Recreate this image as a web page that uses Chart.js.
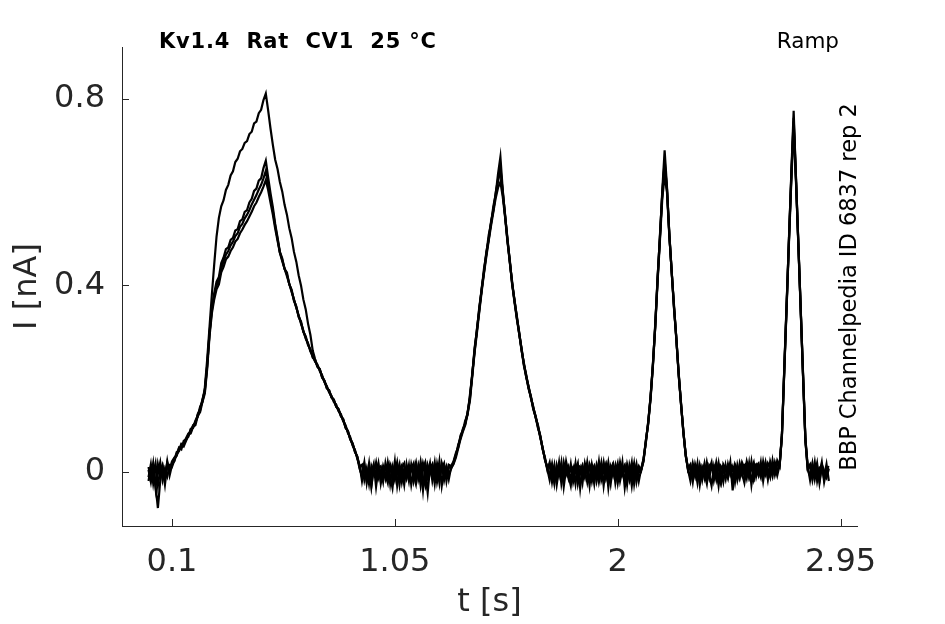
<!DOCTYPE html>
<html>
<head>
<meta charset="utf-8">
<title>Kv1.4 Rat CV1 25 °C - Ramp</title>
<script src="https://cdn.jsdelivr.net/npm/chart.js@4.4.1/dist/chart.umd.min.js"></script>
<style>
	html, body { margin: 0; padding: 0; background: #fff; }
	#wrap { width: 945px; height: 624px; }
</style>
</head>
<body>
<div id="wrap"><canvas id="rampChart" width="945" height="624"></canvas></div>
<script>
// recording clock: one sample every 10 ms starting at 0 s
var sampleStart = 0;
var sampleStep = 0.01;

var xTicks = [0.1, 1.05, 2, 2.95];
var yTicks = [0, 0.4, 0.8];

var headline = 'Kv1.4  Rat  CV1  25 \u00B0C';
var protocolName = 'Ramp';
var sourceNote = 'BBP Channelpedia ID 6837 rep 2';

// current traces [nA]
var traceA = [
	0.010, -0.015, 0.018, -0.030, -0.078, -0.020, 0.012, -0.008, 0.020, 0.004,
	0.022, 0.030, 0.036, 0.052, 0.048, 0.066, 0.070, 0.075, 0.092, 0.094,
	0.110, 0.118, 0.140, 0.150, 0.180, 0.240, 0.310, 0.380, 0.445, 0.505,
	0.545, 0.570, 0.583, 0.605, 0.616, 0.636, 0.645, 0.665, 0.672, 0.688,
	0.693, 0.706, 0.710, 0.725, 0.730, 0.748, 0.752, 0.770, 0.777, 0.798,
	0.812, 0.776, 0.737, 0.702, 0.670, 0.650, 0.622, 0.602, 0.573, 0.552,
	0.523, 0.502, 0.472, 0.451, 0.422, 0.400, 0.370, 0.349, 0.318, 0.294,
	0.260, 0.242, 0.226, 0.220, 0.203, 0.195, 0.180, 0.174, 0.160, 0.154,
	0.140, 0.134, 0.120, 0.112, 0.095, 0.087, 0.070, 0.060, 0.043, 0.032,
	0.010, -0.012, 0.015, -0.020, 0.008, -0.030, 0.012, -0.006, 0.018, -0.025,
	0.004, -0.015, 0.020, -0.010, -0.035, 0.010, -0.004, 0.016, -0.022, 0.006,
	-0.012, 0.014, -0.028, 0.002, 0.020, -0.016, 0.008, -0.040, 0.012, -0.006,
	0.018, -0.020, 0.006, -0.014, 0.022, -0.030, 0.004, -0.010, 0.015, 0.012,
	0.022, 0.040, 0.052, 0.078, 0.088, 0.110, 0.122, 0.165, 0.208, 0.266,
	0.303, 0.354, 0.390, 0.436, 0.468, 0.508, 0.533, 0.570, 0.596, 0.640,
	0.676, 0.605, 0.548, 0.502, 0.450, 0.408, 0.366, 0.335, 0.296, 0.266,
	0.230, 0.208, 0.180, 0.162, 0.136, 0.120, 0.096, 0.078, 0.048, 0.030,
	0.006, -0.018, 0.010, -0.025, 0.014, -0.008, 0.020, -0.032, 0.006, -0.014,
	0.016, -0.022, 0.002, 0.018, -0.036, 0.008, -0.012, 0.020, -0.018, 0.004,
	-0.026, 0.014, -0.006, 0.019, -0.030, 0.010, -0.016, 0.006, 0.017, -0.024,
	0.008, -0.012, 0.020, -0.034, 0.004, -0.018, 0.012, -0.008, 0.016, -0.020,
	0.006, 0.028, 0.062, 0.108, 0.158, 0.232, 0.312, 0.418, 0.502, 0.604,
	0.690, 0.612, 0.508, 0.432, 0.352, 0.287, 0.208, 0.147, 0.083, 0.037,
	0.004, -0.020, 0.012, -0.010, 0.018, -0.028, 0.006, -0.014, 0.020, -0.006,
	-0.030, 0.010, -0.016, 0.016, 0.002, -0.022, 0.014, -0.008, 0.020, -0.040,
	0.008, -0.012, 0.018, -0.004, -0.024, 0.012, -0.010, 0.022, -0.016, 0.006,
	-0.008, 0.020, -0.020, 0.014, 0.004, -0.012, 0.024, -0.006, 0.016, 0.010,
	0.080, 0.222, 0.362, 0.498, 0.642, 0.775, 0.628, 0.492, 0.348, 0.212,
	0.072, 0.012, -0.018, 0.014, -0.006, 0.018, -0.024, 0.010, -0.010, 0.016,
	-0.020
];

var traceB = [
	-0.012, 0.016, -0.025, 0.008, -0.004, 0.020, -0.018, 0.006, -0.010, 0.014,
	0.010, 0.024, 0.042, 0.046, 0.060, 0.058, 0.072, 0.082, 0.085, 0.100,
	0.104, 0.124, 0.132, 0.156, 0.172, 0.226, 0.298, 0.352, 0.383, 0.408,
	0.418, 0.448, 0.460, 0.478, 0.482, 0.498, 0.502, 0.518, 0.521, 0.538,
	0.542, 0.558, 0.562, 0.578, 0.586, 0.603, 0.608, 0.625, 0.630, 0.652,
	0.668, 0.632, 0.598, 0.568, 0.532, 0.503, 0.472, 0.458, 0.435, 0.428,
	0.402, 0.391, 0.367, 0.355, 0.332, 0.323, 0.300, 0.291, 0.272, 0.263,
	0.245, 0.240, 0.225, 0.221, 0.202, 0.196, 0.179, 0.175, 0.159, 0.155,
	0.139, 0.135, 0.119, 0.113, 0.094, 0.088, 0.069, 0.061, 0.042, 0.033,
	0.010, 0.015, -0.018, 0.006, -0.026, 0.012, -0.004, 0.020, -0.014, 0.002,
	-0.022, 0.018, -0.008, 0.010, -0.016, 0.022, -0.030, 0.004, 0.014, -0.012,
	0.008, -0.020, 0.016, -0.006, -0.026, 0.012, -0.014, 0.018, -0.002, -0.045,
	0.010, -0.010, 0.020, -0.022, 0.004, 0.014, -0.018, 0.008, -0.006, 0.006,
	0.018, 0.034, 0.058, 0.072, 0.092, 0.102, 0.128, 0.156, 0.212, 0.258,
	0.307, 0.346, 0.394, 0.428, 0.472, 0.498, 0.537, 0.560, 0.600, 0.628,
	0.655, 0.598, 0.552, 0.496, 0.455, 0.402, 0.370, 0.330, 0.300, 0.260,
	0.234, 0.203, 0.184, 0.158, 0.140, 0.116, 0.100, 0.073, 0.052, 0.025,
	0.010, 0.014, -0.022, 0.008, -0.012, 0.020, -0.026, 0.004, 0.016, -0.008,
	-0.030, 0.010, 0.014, -0.016, 0.006, -0.024, 0.018, -0.004, 0.012, -0.020,
	0.008, -0.012, 0.022, -0.018, 0.002, 0.016, -0.034, 0.010, -0.008, 0.014,
	-0.016, 0.020, -0.006, 0.010, -0.028, 0.014, -0.010, 0.018, -0.022, 0.004,
	0.004, 0.022, 0.068, 0.102, 0.162, 0.228, 0.318, 0.412, 0.508, 0.596,
	0.670, 0.606, 0.512, 0.428, 0.358, 0.283, 0.212, 0.143, 0.087, 0.033,
	0.008, 0.016, -0.014, 0.006, -0.024, 0.014, -0.008, 0.018, -0.012, 0.004,
	0.020, -0.018, 0.008, -0.030, 0.012, 0.004, -0.016, 0.016, -0.006, 0.010,
	-0.022, 0.014, -0.010, 0.020, 0.008, -0.014, 0.018, -0.028, 0.010, 0.016,
	0.004, -0.012, 0.022, -0.004, 0.018, 0.008, -0.010, 0.020, 0.002, 0.014,
	0.078, 0.218, 0.358, 0.502, 0.636, 0.760, 0.632, 0.488, 0.352, 0.208,
	0.068, 0.008, 0.016, -0.012, 0.020, -0.020, 0.008, 0.014, -0.016, 0.006,
	0.012
];

var traceC = [
	0.004, -0.022, 0.012, -0.035, 0.016, -0.010, 0.006, -0.028, 0.014, 0.002,
	0.018, 0.022, 0.038, 0.044, 0.058, 0.054, 0.066, 0.080, 0.082, 0.096,
	0.100, 0.120, 0.128, 0.150, 0.168, 0.220, 0.290, 0.340, 0.370, 0.392,
	0.402, 0.428, 0.440, 0.456, 0.462, 0.474, 0.482, 0.494, 0.500, 0.512,
	0.520, 0.530, 0.538, 0.548, 0.558, 0.570, 0.578, 0.590, 0.600, 0.612,
	0.626, 0.605, 0.578, 0.552, 0.522, 0.496, 0.470, 0.452, 0.436, 0.420,
	0.404, 0.386, 0.370, 0.352, 0.336, 0.318, 0.303, 0.286, 0.276, 0.258,
	0.250, 0.236, 0.230, 0.216, 0.207, 0.192, 0.184, 0.170, 0.163, 0.150,
	0.144, 0.130, 0.124, 0.108, 0.100, 0.083, 0.074, 0.056, 0.047, 0.028,
	0.014, -0.020, 0.010, -0.014, 0.018, -0.032, 0.006, -0.010, 0.014, -0.018,
	0.012, -0.006, -0.024, 0.016, 0.002, -0.018, 0.012, -0.028, 0.008, 0.018,
	-0.014, 0.004, 0.012, -0.020, 0.010, -0.008, 0.022, -0.012, -0.030, 0.014,
	-0.004, 0.012, -0.026, 0.016, -0.012, 0.006, 0.018, -0.020, 0.010, 0.008,
	0.016, 0.030, 0.050, 0.070, 0.086, 0.100, 0.124, 0.152, 0.204, 0.256,
	0.298, 0.344, 0.386, 0.426, 0.462, 0.496, 0.528, 0.558, 0.588, 0.610,
	0.622, 0.590, 0.546, 0.494, 0.450, 0.404, 0.364, 0.328, 0.296, 0.262,
	0.228, 0.204, 0.178, 0.160, 0.134, 0.118, 0.094, 0.076, 0.050, 0.026,
	0.008, -0.010, 0.016, -0.020, 0.004, 0.012, -0.016, 0.020, -0.006, 0.010,
	-0.018, 0.006, -0.026, 0.014, 0.010, -0.012, 0.004, -0.022, 0.016, 0.002,
	0.012, -0.020, 0.008, -0.008, 0.020, -0.014, 0.006, -0.026, 0.012, -0.002,
	0.018, -0.020, 0.004, 0.014, -0.012, 0.008, -0.030, 0.010, -0.004, 0.012,
	0.002, 0.024, 0.064, 0.104, 0.156, 0.226, 0.310, 0.408, 0.496, 0.586,
	0.636, 0.600, 0.506, 0.430, 0.350, 0.284, 0.206, 0.144, 0.084, 0.034,
	0.004, -0.012, 0.018, -0.006, 0.012, -0.020, 0.010, -0.004, -0.026, 0.014,
	0.006, 0.012, -0.012, 0.018, -0.020, 0.008, 0.004, -0.014, 0.016, 0.008,
	0.012, -0.018, 0.006, -0.008, 0.014, 0.018, -0.012, 0.006, 0.020, -0.010,
	0.014, 0.006, -0.004, 0.020, -0.012, 0.016, 0.010, -0.002, 0.024, 0.012,
	0.076, 0.214, 0.352, 0.492, 0.624, 0.742, 0.620, 0.486, 0.346, 0.204,
	0.066, 0.004, -0.010, 0.018, -0.016, 0.012, -0.006, 0.020, -0.022, 0.004,
	0.008
];

var traceD = [
	-0.020, 0.008, -0.006, 0.018, -0.030, 0.004, 0.014, -0.016, 0.022, -0.008,
	0.014, 0.028, 0.034, 0.050, 0.052, 0.062, 0.068, 0.078, 0.090, 0.098,
	0.106, 0.122, 0.136, 0.152, 0.176, 0.228, 0.296, 0.346, 0.378, 0.400,
	0.412, 0.436, 0.452, 0.466, 0.474, 0.486, 0.494, 0.506, 0.512, 0.526,
	0.532, 0.544, 0.552, 0.562, 0.574, 0.584, 0.594, 0.606, 0.616, 0.630,
	0.646, 0.618, 0.588, 0.560, 0.528, 0.500, 0.471, 0.455, 0.436, 0.424,
	0.403, 0.388, 0.369, 0.353, 0.334, 0.320, 0.302, 0.288, 0.274, 0.261,
	0.247, 0.238, 0.228, 0.218, 0.205, 0.194, 0.182, 0.172, 0.161, 0.152,
	0.141, 0.132, 0.121, 0.110, 0.097, 0.085, 0.071, 0.058, 0.045, 0.030,
	0.006, -0.008, 0.020, -0.024, 0.010, -0.004, 0.016, -0.032, 0.008, 0.012,
	-0.010, 0.008, 0.016, -0.026, 0.012, -0.006, 0.020, -0.014, 0.002, -0.028,
	0.016, -0.010, 0.006, 0.018, -0.018, 0.010, -0.030, 0.004, 0.020, -0.012,
	0.006, 0.016, -0.012, 0.010, -0.024, 0.018, -0.002, 0.012, -0.016, 0.010,
	0.020, 0.036, 0.054, 0.074, 0.090, 0.104, 0.126, 0.160, 0.208, 0.262,
	0.304, 0.350, 0.390, 0.430, 0.466, 0.500, 0.534, 0.564, 0.594, 0.624,
	0.648, 0.602, 0.550, 0.498, 0.452, 0.405, 0.368, 0.332, 0.298, 0.264,
	0.232, 0.206, 0.182, 0.160, 0.138, 0.118, 0.098, 0.075, 0.050, 0.028,
	0.004, 0.020, -0.012, 0.014, -0.028, 0.006, 0.010, -0.018, 0.022, -0.004,
	0.010, -0.014, 0.018, -0.026, 0.002, 0.014, -0.008, 0.010, -0.030, 0.016,
	-0.006, 0.012, -0.022, 0.004, 0.016, -0.010, 0.020, -0.016, 0.006, 0.010,
	-0.024, 0.012, 0.002, -0.018, 0.016, -0.006, 0.020, -0.026, 0.010, -0.002,
	0.004, 0.026, 0.066, 0.106, 0.160, 0.230, 0.314, 0.414, 0.504, 0.598,
	0.662, 0.608, 0.510, 0.430, 0.354, 0.286, 0.210, 0.146, 0.086, 0.036,
	0.002, 0.010, -0.022, 0.016, -0.004, 0.008, -0.018, 0.012, 0.004, -0.014,
	0.014, -0.006, 0.020, -0.012, -0.026, 0.016, 0.006, -0.010, 0.012, -0.020,
	0.016, 0.004, -0.014, 0.012, -0.008, 0.022, 0.002, -0.012, -0.018, 0.012,
	0.018, -0.006, 0.010, 0.016, -0.016, 0.022, 0.004, 0.012, -0.008, 0.014,
	0.080, 0.220, 0.356, 0.498, 0.632, 0.752, 0.626, 0.490, 0.350, 0.206,
	0.070, 0.006, 0.012, -0.018, 0.010, 0.004, -0.020, 0.016, 0.002, -0.012,
	0.006
];

var axisColor = '#262626';
var fontFamily = '"DejaVu Sans", "Liberation Sans", sans-serif';

function toPoints(values) {
	return values.map(function(v, i) {
		return { x: +(sampleStart + i * sampleStep).toFixed(2), y: v };
	});
}

function traceSet(values) {
	return {
		data : toPoints(values),
		borderColor : '#000',
		borderWidth : 2.2,
		pointRadius : 0,
		tension : 0,
		fill : false
	};
}

// inward tick marks + the free text around the axes
var frameDecor = {
	id : 'frameDecor',
	afterDraw : function(chart) {
		var ctx = chart.ctx;
		var area = chart.chartArea;
		var xs = chart.scales.x;
		var ys = chart.scales.y;
		ctx.save();
		ctx.strokeStyle = axisColor;
		ctx.lineWidth = 1;
		ctx.beginPath();
		xTicks.forEach(function(v) {
			var px = Math.round(xs.getPixelForValue(v)) + 0.5;
			ctx.moveTo(px, area.bottom);
			ctx.lineTo(px, area.bottom - 7);
		});
		yTicks.forEach(function(v) {
			var py = Math.round(ys.getPixelForValue(v)) + 0.5;
			ctx.moveTo(area.left, py);
			ctx.lineTo(area.left + 7, py);
		});
		ctx.stroke();

		ctx.fillStyle = '#000';
		ctx.textBaseline = 'alphabetic';
		ctx.font = 'bold 21px ' + fontFamily;
		ctx.textAlign = 'left';
		ctx.letterSpacing = '0.8px';
		ctx.fillText(headline, 159, 48);
		ctx.letterSpacing = '0px';
		ctx.font = '21.5px ' + fontFamily;
		ctx.textAlign = 'right';
		ctx.fillText(protocolName, 839, 48);

		ctx.font = '22.5px ' + fontFamily;
		ctx.translate(856, 287);
		ctx.rotate(-Math.PI / 2);
		ctx.textAlign = 'center';
		ctx.fillText(sourceNote, 0, 0);
		ctx.restore();
	}
};

var rampChart = new Chart(document.getElementById('rampChart').getContext('2d'), {
	type : 'line',
	data : {
		datasets : [ traceSet(traceA), traceSet(traceB), traceSet(traceC), traceSet(traceD) ]
	},
	options : {
		responsive : false,
		animation : false,
		layout : { padding : { left : 0, right : 88, top : 47, bottom : 0 } },
		plugins : {
			legend : { display : false },
			tooltip : { enabled : false }
		},
		scales : {
			x : {
				type : 'linear',
				min : -0.113,
				max : 3.02,
				afterBuildTicks : function(scale) {
					scale.ticks = xTicks.map(function(v) { return { value : v }; });
				},
				afterFit : function(scale) { scale.height = 98; },
				grid : { display : false, drawTicks : false },
				border : { display : true, color : axisColor, width : 1 },
				ticks : {
					color : axisColor,
					font : { family : fontFamily, size : 32 },
					padding : 17,
					autoSkip : false,
					maxRotation : 0,
					callback : function(v) { return String(v); }
				},
				title : {
					display : true,
					text : 't [s]',
					color : axisColor,
					font : { family : fontFamily, size : 32 },
					padding : { top : 0, bottom : 2 }
				}
			},
			y : {
				type : 'linear',
				min : -0.1166,
				max : 0.912,
				afterBuildTicks : function(scale) {
					scale.ticks = yTicks.map(function(v) { return { value : v }; });
				},
				afterFit : function(scale) { scale.width = 122; },
				grid : { display : false, drawTicks : false },
				border : { display : true, color : axisColor, width : 1 },
				ticks : {
					color : axisColor,
					font : { family : fontFamily, size : 32 },
					padding : 17,
					callback : function(v) { return String(v); }
				},
				title : {
					display : true,
					text : 'I [nA]',
					color : axisColor,
					font : { family : fontFamily, size : 32 },
					padding : { top : 8, bottom : 0 }
				}
			}
		}
	},
	plugins : [ frameDecor ]
});
</script>
</body>
</html>
